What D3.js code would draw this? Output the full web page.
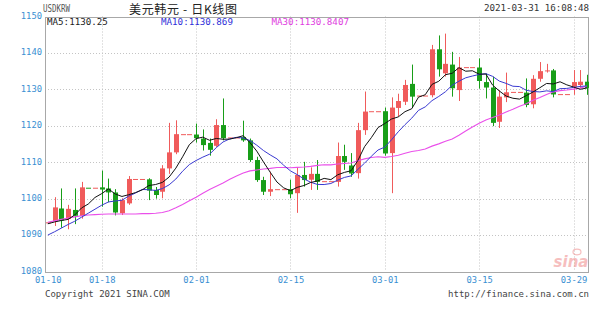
<!DOCTYPE html>
<html><head><meta charset="utf-8">
<script src="https://cdn.jsdelivr.net/npm/d3@7/dist/d3.min.js"></script>
<style>body{margin:0;background:#fff}svg{display:block}</style>
</head><body><svg id="c" width="600" height="327"></svg>
<script>
// ---- data ----
const startDate = "2021-01-10";
const endDate = "2021-03-31";
const open  = [1093.5,1093.8,1097.3,1094.4,1096.9,1095.2,1103.0,1103.0,1103.1,1102.8,1101.7,1096.0,1098.7,1105.4,1105.4,1105.3,1102.4,1101.9,1108.3,1112.7,1117.7,1117.7,1117.6,1116.5,1115.3,1114.5,1120.2,1116.8,1116.8,1116.9,1116.0,1110.6,1105.1,1101.9,1102.6,1102.6,1102.6,1101.5,1106.5,1105.2,1106.8,1104.8,1104.8,1104.6,1111.7,1109.1,1107.0,1118.8,1124.0,1124.0,1124.0,1112.5,1124.9,1126.6,1131.5,1128.3,1128.3,1128.4,1141.0,1134.4,1136.8,1129.8,1136.1,1136.1,1136.0,1132.0,1130.5,1121.1,1127.8,1129.3,1129.3,1129.1,1125.9,1132.9,1135.0,1135.2,1128.7,1128.7,1130.7,1131.2,1132.1];
const high  = [1093.5,1100.4,1102.8,1098.3,1102.8,1104.6,1103.0,1103.0,1107.7,1105.5,1102.6,1100.1,1106.2,1105.4,1105.4,1105.6,1103.2,1109.2,1120.8,1121.5,1117.7,1117.7,1120.6,1119.0,1116.5,1121.8,1127.5,1116.8,1116.8,1121.4,1116.5,1111.5,1106.0,1107.4,1102.6,1102.6,1105.2,1108.6,1110.1,1108.6,1110.6,1104.8,1104.8,1115.4,1114.8,1112.5,1120.8,1129.4,1124.0,1124.0,1125.0,1127.8,1128.8,1132.6,1136.8,1128.3,1128.3,1142.2,1144.8,1145.3,1140.3,1138.9,1136.1,1136.1,1138.5,1134.4,1133.5,1129.8,1134.6,1129.3,1129.3,1133.0,1133.9,1137.5,1137.0,1135.6,1128.7,1128.7,1135.3,1135.3,1134.0];
const low   = [1093.5,1092.5,1092.0,1091.6,1093.0,1094.5,1103.0,1103.0,1097.8,1099.0,1095.4,1095.5,1098.3,1105.4,1105.4,1099.6,1100.0,1100.1,1106.8,1112.2,1117.7,1117.7,1115.4,1113.2,1111.8,1114.2,1116.0,1116.8,1116.8,1115.6,1110.1,1104.6,1101.0,1100.7,1102.6,1102.6,1100.1,1096.1,1103.3,1102.4,1102.4,1104.8,1104.8,1103.3,1107.9,1106.0,1105.5,1117.5,1124.0,1124.0,1111.8,1101.5,1122.5,1125.7,1125.0,1128.3,1128.3,1127.8,1133.5,1133.5,1128.0,1126.8,1136.1,1136.1,1130.2,1127.5,1119.9,1119.4,1126.5,1129.3,1129.3,1125.1,1124.8,1132.1,1134.6,1127.8,1128.7,1128.7,1128.5,1130.4,1128.5];
const close = [1093.5,1097.6,1094.0,1097.2,1095.3,1103.1,1103.0,1103.0,1102.5,1101.7,1096.2,1099.6,1105.4,1105.4,1105.4,1102.2,1101.0,1108.3,1112.7,1117.7,1117.7,1117.7,1116.6,1114.7,1113.4,1120.2,1116.6,1116.8,1116.8,1116.0,1110.6,1105.1,1101.9,1102.6,1102.6,1102.6,1101.2,1106.5,1105.1,1106.8,1104.6,1104.8,1104.8,1111.7,1110.1,1106.9,1118.8,1123.9,1124.0,1124.0,1112.4,1125.0,1126.8,1131.2,1128.0,1128.3,1128.3,1141.0,1135.5,1137.0,1130.3,1136.0,1136.1,1136.1,1132.3,1130.5,1120.8,1128.0,1129.2,1129.3,1129.3,1125.7,1132.9,1135.0,1135.2,1128.6,1128.7,1128.7,1132.0,1132.1,1130.4];
// moving-average values before enough in-chart history exists
const ma5Head  = [1093.1,1093.6,1094.0,1094.3];
const ma10Head = [1090.0,1090.9,1091.9,1092.9,1093.8,1094.9,1096.0,1097.1,1098.2];
const ma30Head = [1093.5,1093.9,1094.3,1094.7,1095.0,1095.3,1095.5,1095.6,1095.7,1095.8,1095.8,1095.8,1095.8,1095.8,1095.9,1095.9,1096.0,1096.2,1096.7,1097.5,1098.4,1099.4,1100.4,1101.5,1102.5,1103.4,1104.3,1105.3,1106.2];
const yTicks = [1080,1090,1100,1110,1120,1130,1140,1150];
const xTickLabels = ["01-10","01-18","02-01","02-15","03-01","03-15","03-29"];
const maLegend = ["MA5:1130.25","MA10:1130.869","MA30:1130.8407"];
const symbolText = "USDKRW";
const titleText = "美元韩元 - 日K线图";
const stampText = "2021-03-31 16:08:48";
const footLeft = "Copyright 2021 SINA.COM";
const footRight = "http://finance.sina.com.cn";

// ---- layout ----
const L = 45, R = 589, T = 16.5, B = 271.5;
const RED = "#f05b5b", GREEN = "#189e18";
const MONO = "'DejaVu Sans Mono', 'Liberation Mono', monospace";
const parse = d3.timeParse("%Y-%m-%d");
const dates = d3.timeDay.range(parse(startDate), d3.timeDay.offset(parse(endDate), 1));
const data = dates.map((d, i) => ({d, o: open[i], h: high[i], l: low[i], c: close[i], i}));

const x = d3.scaleTime().domain([parse(startDate), parse(endDate)]).range([47.8, 587]);
const y = d3.scaleLinear().domain([1080, 1150]).range([B, T]);

const svg = d3.select("#c");
svg.append("defs").append("clipPath").attr("id", "pc")
  .append("rect").attr("x", L).attr("y", T).attr("width", R - L).attr("height", B - T);

// grid
const grid = svg.append("g");
grid.selectAll("line.h").data(yTicks.filter(v => v > 1080 && v < 1150)).join("line")
  .attr("x1", L).attr("x2", R).attr("y1", v => Math.round(y(v)) + 0.5).attr("y2", v => Math.round(y(v)) + 0.5)
  .attr("stroke", "#c4c4c4").attr("stroke-dasharray", "1,2");
const tickDates = xTickLabels.map(s => parse("2021-" + s));
grid.selectAll("line.v").data(tickDates.slice(1)).join("line")
  .attr("x1", d => Math.round(x(d)) + 0.5).attr("x2", d => Math.round(x(d)) + 0.5).attr("y1", T).attr("y2", B)
  .attr("stroke", "#c4c4c4").attr("stroke-dasharray", "1,2");

// frame
svg.append("rect").attr("x", L + 0.5).attr("y", Math.round(T) + 0.5).attr("width", R - L - 1).attr("height", B - T)
  .attr("fill", "none").attr("stroke", "#a8a8a8");

// candles
const colorOf = (p) => {
  if (p.c > p.o) return RED;
  if (p.c < p.o) return GREEN;
  const prev = p.i > 0 ? close[p.i - 1] : p.c;
  return p.c >= prev ? RED : GREEN;
};
const cg = svg.append("g").attr("clip-path", "url(#pc)");
const cand = cg.selectAll("g").data(data).join("g");
cand.append("line")
  .attr("x1", p => Math.round(x(p.d)) + 0.5).attr("x2", p => Math.round(x(p.d)) + 0.5)
  .attr("y1", p => y(p.h)).attr("y2", p => y(p.l))
  .attr("stroke", colorOf).attr("stroke-width", 1);
cand.append("rect")
  .attr("x", p => Math.round(x(p.d)) - 2).attr("width", 5)
  .attr("y", p => Math.min(y(p.o), y(p.c)))
  .attr("height", p => Math.max(1, Math.abs(y(p.o) - y(p.c))))
  .attr("fill", colorOf);

// moving averages
function ma(n, head) {
  return data.map((p, i) => i < n - 1 ? head[i] : d3.mean(close.slice(i - n + 1, i + 1)));
}
const line = d3.line().x((v, i) => x(dates[i])).y(v => y(v));
const mg = svg.append("g").attr("clip-path", "url(#pc)").attr("fill", "none");
mg.append("path").attr("d", line(ma(30, ma30Head))).attr("stroke", "#ea4fea").attr("stroke-width", 1.1);
mg.append("path").attr("d", line(ma(10, ma10Head))).attr("stroke", "#3a3ad0").attr("stroke-width", 1);
mg.append("path").attr("d", line(ma(5, ma5Head))).attr("stroke", "#111").attr("stroke-width", 1);

// axes
const yAxis = svg.append("g").attr("transform", `translate(${L - 2},-1)`)
  .call(d3.axisLeft(y).tickValues(yTicks).tickSize(0).tickPadding(1).tickFormat(d3.format("d")));
yAxis.select(".domain").remove();
yAxis.selectAll("text").attr("font-family", MONO).attr("font-size", 8.8).attr("fill", "#3a8fd2");
const xAxis = svg.append("g").attr("transform", `translate(0,${B + 5.5})`)
  .call(d3.axisBottom(x).tickValues(tickDates).tickSize(0).tickPadding(0).tickFormat((d, i) => xTickLabels[i]));
xAxis.select(".domain").remove();
xAxis.selectAll("text").attr("font-family", MONO).attr("font-size", 8.8).attr("fill", "#3a8fd2");

// header
svg.append("text").attr("x", 43).attr("y", 12).text(symbolText)
  .attr("font-family", MONO).attr("font-size", 10).attr("fill", "#555").attr("textLength", 27).attr("lengthAdjust", "spacingAndGlyphs");
svg.append("text").attr("x", 183).attr("y", 13.5).attr("text-anchor", "middle").text(titleText)
  .attr("font-family", "'Noto Sans CJK SC', sans-serif").attr("font-size", 12).attr("fill", "#222")
  .attr("textLength", 108).attr("lengthAdjust", "spacing");
svg.append("text").attr("x", 589).attr("y", 11).attr("text-anchor", "end").text(stampText)
  .attr("font-family", MONO).attr("font-size", 9.2).attr("fill", "#333");
const legCols = ["#222", "#2f2fd8", "#e040e0"];
const legX = [47, 161, 271.5];
svg.selectAll("text.leg").data(maLegend).join("text")
  .attr("x", (d, i) => legX[i]).attr("y", 24.5).text(d => d)
  .attr("font-family", MONO).attr("font-size", 9.2).attr("fill", (d, i) => legCols[i]);

// footer
svg.append("text").attr("x", 45).attr("y", 297).text(footLeft)
  .attr("font-family", MONO).attr("font-size", 9).attr("fill", "#444");
svg.append("text").attr("x", 589).attr("y", 297).attr("text-anchor", "end").text(footRight)
  .attr("font-family", MONO).attr("font-size", 9).attr("fill", "#444");

// faint sina logo
const logo = svg.append("g").attr("opacity", 0.55);
logo.append("text").attr("x", 571).attr("y", 267).attr("text-anchor", "middle").text("sina")
  .attr("font-family", "'DejaVu Sans', sans-serif").attr("font-style", "italic").attr("font-weight", "bold")
  .attr("font-size", 15).attr("fill", "#f08a8a");
logo.append("ellipse").attr("cx", 577).attr("cy", 252).attr("rx", 4).attr("ry", 2.8)
  .attr("fill", "none").attr("stroke", "#f08a8a").attr("stroke-width", 1.2);
</script></body></html>
